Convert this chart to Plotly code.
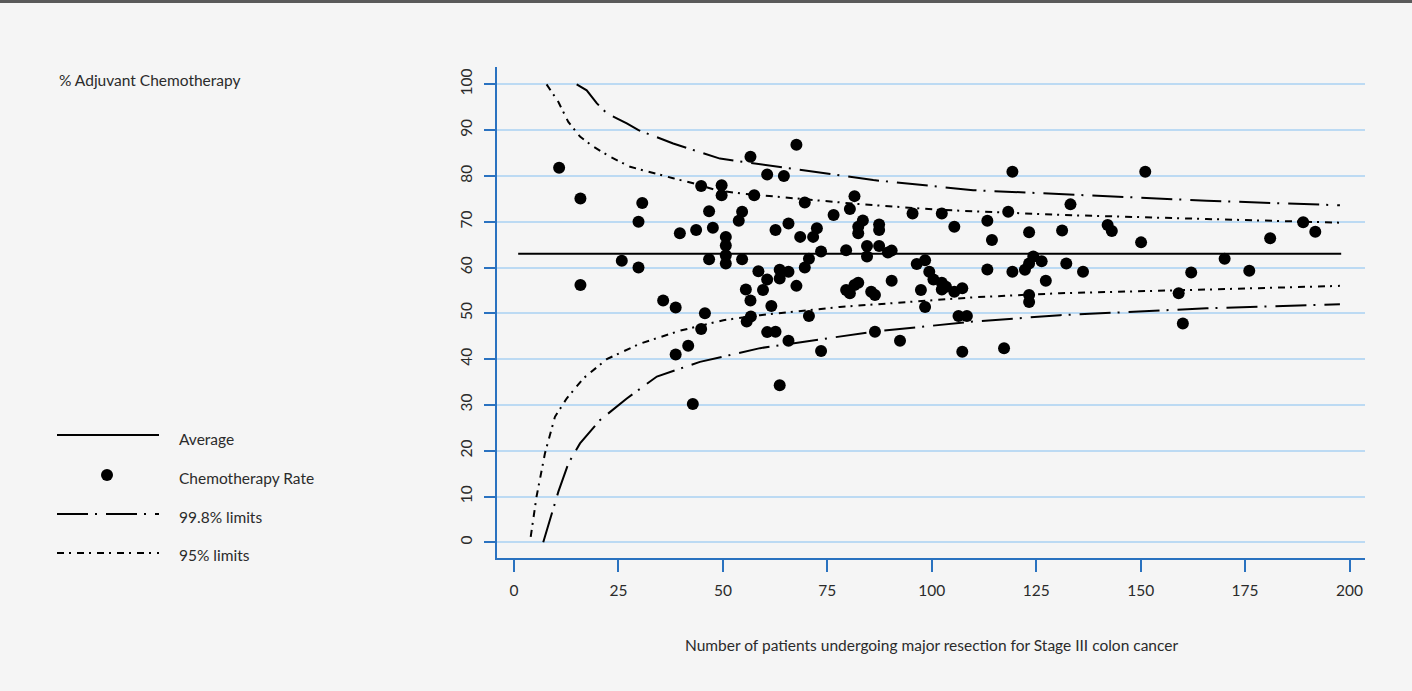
import plotly.graph_objects as go

# ---------------- data ----------------
patients = [10.8, 15.9, 15.9, 25.8, 29.8, 29.8, 30.7, 35.7, 38.7, 39.7, 43.6, 44.8, 45.7, 46.7, 47.6, 46.7,
            49.7, 49.7, 50.7, 50.7, 50.7, 50.7, 54.6, 53.8, 54.6, 56.6, 57.5, 58.5, 55.5, 56.6, 38.7, 41.7,
            44.8, 42.8, 55.7, 56.7, 60.6, 64.6, 67.6, 62.6, 65.7, 69.6, 68.5, 71.6, 72.5, 76.5, 81.5, 80.4,
            83.5, 82.4, 82.4, 87.4, 87.4, 95.4, 102.4, 105.4, 113.3, 114.4, 118.3, 119.3, 123.3, 131.2,
            60.6, 59.6, 61.6, 63.6, 63.6, 65.7, 67.6, 69.6, 70.6, 73.5, 70.6, 79.5, 79.5, 80.4, 81.5, 82.4,
            84.5, 84.5, 85.5, 86.4, 87.4, 89.5, 90.4, 90.4, 96.4, 98.4, 99.4, 100.4, 97.4, 98.4, 102.4, 102.4,
            103.4, 105.4, 107.3, 106.4, 108.4, 113.3, 119.3, 122.3, 123.3, 124.3, 126.3, 127.3, 123.3, 123.3,
            151.1, 133.2, 142.1, 143.1, 150.1, 181.0, 188.9, 191.8, 132.2, 136.2, 162.1, 170.1, 176.0, 159.1,
            160.1, 60.6, 62.6, 65.7, 63.6, 73.5, 86.4, 92.4, 107.3, 117.3]
chemo_rate = [81.8, 75.1, 56.2, 61.5, 70.0, 60.0, 74.1, 52.8, 51.3, 67.5, 68.2, 77.8, 50.0, 72.3, 68.7, 61.8,
              78.0, 75.8, 66.7, 64.8, 62.7, 60.9, 72.2, 70.2, 61.8, 84.2, 75.8, 59.2, 55.2, 52.8, 41.0, 42.9,
              46.6, 30.2, 48.2, 49.3, 80.3, 80.0, 86.8, 68.2, 69.6, 74.2, 66.7, 66.7, 68.6, 71.5, 75.6, 72.8,
              70.3, 68.9, 67.5, 69.4, 68.2, 71.8, 71.8, 68.9, 70.2, 66.0, 72.2, 80.9, 67.7, 68.1,
              57.4, 55.1, 51.6, 59.5, 57.6, 59.1, 56.0, 60.0, 61.9, 63.5, 49.4, 63.8, 55.1, 54.4, 56.2, 56.7,
              64.7, 62.4, 54.7, 54.0, 64.7, 63.3, 63.7, 57.1, 60.8, 61.6, 59.1, 57.4, 55.1, 51.4, 56.7, 55.2,
              55.8, 54.7, 55.5, 49.4, 49.4, 59.6, 59.1, 59.5, 60.9, 62.4, 61.4, 57.1, 54.0, 52.5,
              80.9, 73.8, 69.3, 68.0, 65.5, 66.4, 69.9, 67.8, 60.9, 59.1, 58.9, 61.9, 59.3, 54.4,
              47.8, 45.9, 46.0, 44.0, 34.3, 41.8, 46.0, 44.0, 41.6, 42.4]

average_n = [1, 198]
average_v = [63, 63]

upper998_n = [15.0, 17.4, 19.8, 22.2, 24.6, 27.0, 29.8, 38.1, 49.3, 58.9, 86.0, 109.9, 130.7, 165.8, 197.7]
upper998_v = [100, 98.7, 95.9, 93.7, 92.6, 91.5, 90.0, 87.1, 83.8, 82.6, 79.1, 76.9, 76.0, 74.6, 73.6]

lower998_n = [7.0, 9.0, 10.6, 13.0, 15.8, 20.6, 27.0, 34.2, 44.5, 58.9, 86.0, 109.9, 130.7, 165.8, 197.7]
lower998_v = [0.0, 6.3, 11.0, 17.2, 21.6, 26.7, 31.4, 36.2, 39.4, 42.4, 46.0, 48.2, 49.6, 51.1, 52.0]

upper95_n = [7.8, 10.6, 13.0, 15.8, 19.0, 23.0, 27.8, 33.3, 38.1, 42.9, 48.5, 54.1, 82.0, 102, 130.7, 165.8, 197.7]
upper95_v = [100, 96.2, 91.8, 88.6, 86.4, 84.2, 82.0, 80.6, 79.5, 78.4, 76.9, 76.2, 73.9, 72.6, 71.5, 70.6, 69.8]

lower95_n = [4.0, 5.4, 7.4, 9.8, 12.6, 16.6, 22.2, 30.2, 39.7, 50.1, 58.9, 78.0, 109.9, 130.7, 165.8, 197.7]
lower95_v = [1.2, 10.0, 19.4, 27.4, 31.4, 35.8, 40.0, 43.4, 46.2, 48.5, 49.6, 51.4, 53.5, 54.4, 55.2, 56.0]

x_ticks = [0, 25, 50, 75, 100, 125, 150, 175, 200]
y_ticks = [0, 10, 20, 30, 40, 50, 60, 70, 80, 90, 100]

legend_labels = ["Average", "Chemotherapy Rate", "99.8% limits", "95% limits"]

# ---------------- styling ----------------
FONT = "Lato"
FS = 15.5
TXT = "#2b2b2b"
AXIS = "#2a72c0"
GRID = "#bcdaf3"
BG = "#f5f5f5"
DASH998 = "31px,7px,2px,9px"
DASH95 = "7px,5px,2px,6px"

L, R, T, B = 497, 1365, 67, 558
W, H = R - L, B - T


def px(x):
    return (x - L) / W


def py(y):
    return (B - y) / H


fig = go.Figure()

fig.add_trace(go.Scatter(x=average_n, y=average_v, mode="lines",
                         line=dict(color="black", width=2), showlegend=False, hoverinfo="skip"))
for xs, ys in [(upper998_n, upper998_v), (lower998_n, lower998_v)]:
    fig.add_trace(go.Scatter(x=xs, y=ys, mode="lines",
                             line=dict(color="black", width=2, dash=DASH998), showlegend=False))
for xs, ys in [(upper95_n, upper95_v), (lower95_n, lower95_v)]:
    fig.add_trace(go.Scatter(x=xs, y=ys, mode="lines",
                             line=dict(color="black", width=2, dash=DASH95), showlegend=False))
fig.add_trace(go.Scatter(x=patients, y=chemo_rate, mode="markers",
                         marker=dict(color="black", size=12, line=dict(width=0)), showlegend=False))

shapes = [
    dict(type="line", xref="paper", yref="paper", x0=px(0), x1=px(1412), y0=py(1.5), y1=py(1.5),
         line=dict(color="#5a5a5a", width=3)),
    dict(type="line", xref="paper", yref="paper", x0=px(57), x1=px(159), y0=py(435), y1=py(435),
         line=dict(color="black", width=2)),
    dict(type="line", xref="paper", yref="paper", x0=px(57), x1=px(159), y0=py(514), y1=py(514),
         line=dict(color="black", width=2, dash=DASH998)),
    dict(type="line", xref="paper", yref="paper", x0=px(57), x1=px(159), y0=py(553), y1=py(553),
         line=dict(color="black", width=2, dash=DASH95)),
    dict(type="circle", xref="paper", yref="paper", xsizemode="pixel", ysizemode="pixel",
         xanchor=px(107), yanchor=py(475), x0=-6, x1=6, y0=-6, y1=6,
         fillcolor="black", line=dict(width=0)),
]

annotations = [
    dict(text="% Adjuvant Chemotherapy", xref="paper", yref="paper", x=px(57), y=py(80),
         xanchor="left", yanchor="middle", showarrow=False, font=dict(family=FONT, size=FS, color=TXT)),
    dict(text="Number of patients undergoing major resection for Stage III colon cancer",
         xref="paper", yref="paper", x=0.5, y=py(645), xanchor="center", yanchor="middle",
         showarrow=False, font=dict(family=FONT, size=FS, color=TXT)),
]
for lbl, yy in zip(legend_labels, [439, 478, 517, 555]):
    annotations.append(dict(text=lbl, xref="paper", yref="paper", x=px(177), y=py(yy),
                            xanchor="left", yanchor="middle", showarrow=False,
                            font=dict(family=FONT, size=FS, color=TXT)))

fig.update_layout(
    width=1412, height=691,
    margin=dict(l=L, r=1412 - R, t=T, b=691 - B),
    paper_bgcolor=BG, plot_bgcolor=BG,
    font=dict(family=FONT, size=FS, color=TXT),
    shapes=shapes, annotations=annotations,
    showlegend=False,
    xaxis=dict(range=[-4.07, 203.7], tickvals=x_ticks, ticktext=[str(t) for t in x_ticks],
               showgrid=False, zeroline=False, showline=True, linecolor=AXIS, linewidth=1.5,
               ticks="outside", ticklen=12, tickcolor=AXIS, tickwidth=1.5, ticklabelstandoff=6,
               tickfont=dict(family=FONT, size=FS, color=TXT)),
    yaxis=dict(range=[-3.43, 103.8], tickvals=y_ticks, ticktext=[str(t) for t in y_ticks],
               showgrid=True, gridcolor=GRID, gridwidth=1.5, zeroline=False,
               showline=True, linecolor=AXIS, linewidth=1.5,
               ticks="outside", ticklen=11, tickcolor=AXIS, tickwidth=1.5, tickangle=-90,
               ticklabelstandoff=6,
               tickfont=dict(family=FONT, size=FS, color=TXT)),
)

fig.write_html("out.html")
